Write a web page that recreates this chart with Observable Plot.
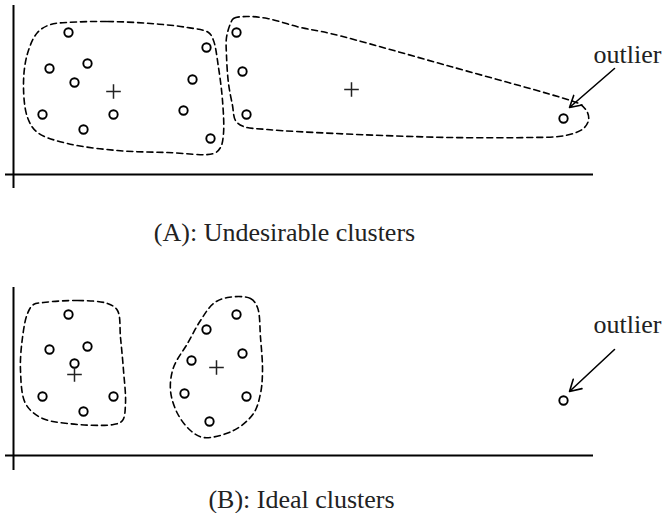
<!DOCTYPE html>
<html>
<head>
<meta charset="utf-8">
<script src="https://cdn.jsdelivr.net/npm/d3@7"></script>
<script src="https://cdn.jsdelivr.net/npm/@observablehq/plot@0.6"></script>
<style>
  body { margin: 0; background: #fff; }
  svg { display: block; }
</style>
</head>
<body>
<div id="chart"></div>
<script>
// ---- Panel A: undesirable clusters (data units, origin at axes crossing) ----
const pointsA = [[55,142],[36,106],[74,111],[61,92],[29,60],[70,45],[100,60],
                 [193,127],[179,95],[170,64],[197,36],[223,142],[229,103],[233,60]];
const outlierA = [[550,56]];
const centersA = [[100,83],[338,85]];
const outlineA1 = [[54,152],[94,153],[137,151],[174,147],[195,142],[200,134],[205,107],[209,74],
                   [210,41],[207,27],[200,21],[154,22],[104,24],[54,31],[24,42],[14,57],[10,91],
                   [14,121],[24,142],[37,150]];
const outlineA2 = [[217,151],[220,156],[234,158],[254,156],[287,147],[317,141],[437,108],[557,74],
                   [567,70],[574,62],[575,54],[570,46],[560,41],[545,38],[517,37],[437,37],[322,41],
                   [254,45],[230,48],[222,54],[219,69],[215,91],[213,119],[213,137]];
const arrowA = [[601,106,556,67]];
const labelA = [{text: "outlier", x: 614, y: 112}];
const captionA = [{text: "(A): Undesirable clusters", x: 271, y: -66}];

// ---- Panel B: ideal clusters ----
const pointsB = [[55,141],[36,106],[74,109],[61,92],[29,59],[70,44],[100,59],
                 [223,141],[193,126],[229,102],[178,95],[171,62],[233,59],[196,34]];
const outlierB = [[550,55]];
const centersB = [[61,81],[203,88]];
const outlineB1 = [[30,153],[64,155],[94,152],[104,145],[107,118],[110,85],[112,52],[109,35],
                   [100,31],[54,32],[27,38],[12,52],[7,85],[9,118],[14,142],[20,151]];
const outlineB2 = [[214,158],[237,157],[244,148],[247,118],[249,85],[247,62],[240,42],[220,25],
                   [190,18],[177,25],[164,42],[157,65],[160,88],[174,112],[187,135],[200,152]];
const arrowB = [[601,106,556,64]];
const labelB = [{text: "outlier", x: 614, y: 123}];
const captionB = [{text: "(B): Ideal clusters", x: 288, y: -52}];

const plusSymbol = {
  draw(context, size) {
    const h = Math.sqrt(size / Math.PI);
    context.moveTo(-h, 0); context.lineTo(h, 0);
    context.moveTo(0, -h); context.lineTo(0, h);
  }
};

function panel({height, yDomain, axisY, points, outliers, centers, outlines, arrows, label, caption}) {
  const X = d => d[0], Y = d => d[1];
  return Plot.plot({
    width: 663,
    height,
    margin: 0,
    x: {domain: [-13, 650], range: [0, 663], axis: null},
    y: {domain: yDomain, range: [height, 0], axis: null},
    marks: [
      Plot.ruleX([0], {y1: axisY[0], y2: axisY[1], stroke: "#000", strokeWidth: 2}),
      Plot.ruleY([0], {x1: -8, x2: 580, stroke: "#000", strokeWidth: 2}),
      ...outlines.map(o => Plot.line(o, {x: X, y: Y, curve: "catmull-rom-closed",
        stroke: "#000", strokeWidth: 1.6, strokeDasharray: "6,4"})),
      Plot.dot(points.concat(outliers), {x: X, y: Y, r: 4.2, stroke: "#000", strokeWidth: 1.9, fill: "none"}),
      Plot.dot(centers, {x: X, y: Y, r: 7.3, symbol: plusSymbol, stroke: "#222", strokeWidth: 1.5, fill: "none"}),
      Plot.arrow(arrows, {x1: d => d[0], y1: d => d[1], x2: d => d[2], y2: d => d[3],
        stroke: "#000", strokeWidth: 1.6, headLength: 12}),
      Plot.text(label, {x: "x", y: "y", text: "text", lineAnchor: "bottom", textAnchor: "middle",
        fontSize: 26, fontFamily: "Liberation Serif", fill: "#222"}),
      Plot.text(caption, {x: "x", y: "y", text: "text", lineAnchor: "bottom", textAnchor: "middle",
        fontSize: 26, fontFamily: "Liberation Serif", fill: "#222"})
    ]
  });
}

const chart = document.getElementById("chart");
chart.append(panel({height: 258, yDomain: [-84, 174], axisY: [-14, 169], points: pointsA,
  outliers: outlierA, centers: centersA, outlines: [outlineA1, outlineA2], arrows: arrowA,
  label: labelA, caption: captionA}));
chart.append(panel({height: 255, yDomain: [-58, 197], axisY: [-15, 168], points: pointsB,
  outliers: outlierB, centers: centersB, outlines: [outlineB1, outlineB2], arrows: arrowB,
  label: labelB, caption: captionB}));
</script>
</body>
</html>
